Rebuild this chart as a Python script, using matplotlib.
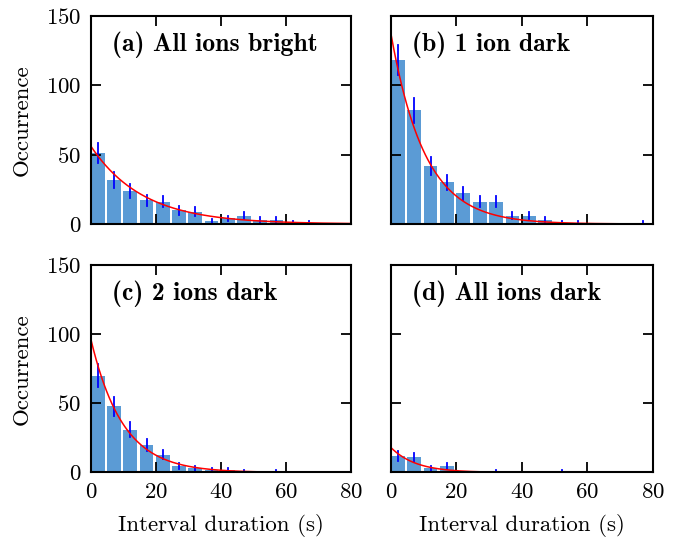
import numpy as np
import matplotlib
matplotlib.use("Agg")
import matplotlib.pyplot as plt

# bin left edges (s), 5 s wide
bin_left = [0, 5, 10, 15, 20, 25, 30, 35, 40, 45, 50, 55, 60, 65, 70, 75]

titles = ["(a) All ions bright", "(b) 1 ion dark", "(c) 2 ions dark", "(d) All ions dark"]

counts_a = [51, 32, 24, 17, 16, 10, 9, 2, 4, 6, 3, 3, 1, 1, 0, 0]
counts_b = [118, 82, 42, 30, 22, 16, 16, 6, 6, 3, 1, 1, 0, 0, 0, 1]
counts_c = [70, 48, 31, 20, 13, 5, 3, 2, 2, 1, 0, 1, 0, 0, 0, 0]
counts_d = [12, 11, 3, 5, 0, 0, 1, 0, 0, 0, 1, 0, 0, 0, 0, 0]

err_a = [7.1, 5.7, 4.9, 4.1, 4.0, 3.2, 3.0, 1.4, 2.0, 2.4, 1.7, 1.7, 1.0, 1.0, 0, 0]
err_b = [10.9, 9.1, 6.5, 5.5, 4.7, 4.0, 4.0, 2.4, 2.4, 1.7, 1.0, 1.0, 0, 0, 0, 1.0]
err_c = [8.4, 6.9, 5.6, 4.5, 3.6, 2.2, 1.7, 1.4, 1.4, 1.0, 0, 1.0, 0, 0, 0, 0]
err_d = [3.5, 3.3, 1.7, 2.2, 0, 0, 1.0, 0, 0, 0, 1.0, 0, 0, 0, 0, 0]

# exponential fit: amplitude, decay time (s)
fit_amp = [56, 137, 96, 18]
fit_tau = [16.0, 10.4, 9.8, 7.6]


def main():
    plt.rcParams["font.family"] = "cmr10"
    plt.rcParams["axes.formatter.use_mathtext"] = True

    fig = plt.figure(figsize=(6.84, 5.39), dpi=100)

    positions = [
        [0.133, 0.5844, 0.380, 0.386],
        [0.5716, 0.5844, 0.383, 0.386],
        [0.133, 0.1234, 0.380, 0.385],
        [0.5716, 0.1234, 0.383, 0.385],
    ]
    all_counts = [counts_a, counts_b, counts_c, counts_d]
    all_errs = [err_a, err_b, err_c, err_d]

    for i in range(4):
        ax = fig.add_axes(positions[i])
        plot_panel(ax, all_counts[i], all_errs[i], fit_amp[i], fit_tau[i], titles[i])
        if i < 2:
            ax.set_xticklabels([])
        else:
            ax.set_xlabel("Interval duration (s)", fontsize=16.5, labelpad=9)
        if i % 2 == 1:
            ax.set_yticklabels([])
        else:
            ax.set_ylabel("Occurrence", fontsize=16.5, labelpad=10)

    fig.savefig("out.png", dpi=100)
    print("End of program")


def plot_panel(ax, counts, errs, amp, tau, title):
    centers = [b + 2.1 for b in bin_left]
    ax.bar(bin_left, counts, width=4.2, align="edge", color="#5b9bd5", zorder=1)
    for c, n, e in zip(centers, counts, errs):
        if e > 0:
            ax.plot([c, c], [n - e, n + e], color="#0000ff", lw=1.3, zorder=2)
    x = np.linspace(0, 80, 300)
    ax.plot(x, amp * np.exp(-x / tau), color="red", lw=1.1, zorder=3)

    ax.set_xlim(0, 80)
    ax.set_ylim(0, 150)
    ax.set_xticks([0, 20, 40, 60, 80])
    ax.set_yticks([0, 50, 100, 150])
    ax.tick_params(direction="in", length=7.5, width=1.3, top=True, right=True,
                   labelsize=16.5, pad=7)
    for s in ax.spines.values():
        s.set_linewidth(1.5)
        s.set_zorder(4)
    ax.text(0.08, 0.86, title, transform=ax.transAxes, fontsize=18.5,
            family="cmb10", va="center", ha="left")


main()
